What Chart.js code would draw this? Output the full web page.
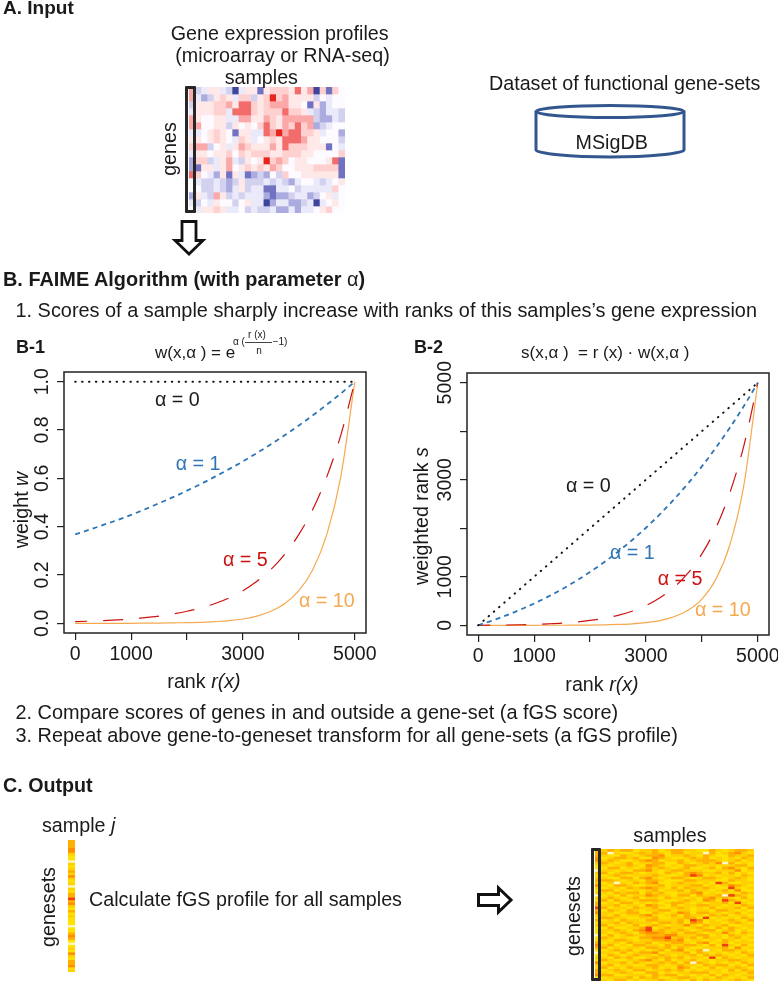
<!DOCTYPE html>
<html><head><meta charset="utf-8">
<style>
html,body{margin:0;padding:0;background:#fff;width:778px;height:982px;overflow:hidden;font-family:"Liberation Sans",Arial,sans-serif;color:#1a1a1a}
.t{position:absolute;white-space:nowrap;line-height:20px;font-size:19.7px}
.w{font-size:19.9px}
.b{font-weight:bold}
.r{transform:translate(-50%,-50%) rotate(-90deg)}
.c{transform:translateX(-50%)}
canvas{position:absolute;display:block}
.soft{filter:blur(.5px)}
.box{position:absolute;box-sizing:border-box;border:3px solid #262626;border-radius:1px}
svg{position:absolute;overflow:visible}
</style></head><body>
<canvas id="heatIn" class="soft" style="left:189px;top:87px" width="156" height="126"></canvas>
<canvas id="b1" style="left:0;top:348px" width="384" height="335"></canvas>
<canvas id="b2" style="left:390px;top:349px" width="397" height="336"></canvas>
<canvas id="strip" class="soft" style="left:68px;top:840px" width="7" height="132"></canvas>
<canvas id="heatOut" class="soft" style="left:595px;top:849px" width="159" height="132"></canvas>

<div class="box" style="left:185px;top:86px;width:11px;height:127px"></div>
<div class="box" style="left:591px;top:848px;width:10px;height:133px"></div>

<svg style="left:0;top:0" width="778" height="982">
  <path d="M182 221.500H196V240.500H203L189 254L175 240.500H182Z" fill="#fff" stroke="#111" stroke-width="2.800"/>
  <path d="M478.500 894.500H498.500V888L511 900L498.500 912V905.500H478.500Z" fill="#fff" stroke="#111" stroke-width="3"/>
  <g fill="none" stroke="#34568f" stroke-width="3">
    <path d="M536 111.500V150C536 153.500 570 157 610 157C650 157 684 153.500 684 150V111.500"/>
    <ellipse cx="610" cy="111.500" rx="74" ry="6"/>
  </g>
</svg>

<div class="t b" style="left:3px;top:-2px;font-size:19px">A. Input</div>
<div class="t c" style="left:279.700px;top:23px">Gene expression profiles</div>
<div class="t c" style="left:282.500px;top:45px">(microarray or RNA-seq)</div>
<div class="t c" style="left:261.300px;top:67px">samples</div>
<div class="t r" style="left:169px;top:149px">genes</div>
<div class="t" style="left:489px;top:73px">Dataset of functional gene-sets</div>
<div class="t c" style="left:611.700px;top:132px">MSigDB</div>

<div class="t b w" style="left:3px;top:269px">B. FAIME Algorithm (with parameter <span style="font-weight:normal">α</span>)</div>
<div class="t w" style="left:15.500px;top:300px">1. Scores of a sample sharply increase with ranks of this samples’s gene expression</div>

<div class="t b" style="left:16px;top:337px;font-size:18px">B-1</div>
<div class="t b" style="left:414px;top:337px;font-size:18px">B-2</div>

<div class="t" style="left:155px;top:343px;font-size:17px">w(x,α ) = e</div>
<div class="t" style="left:233px;top:332px;font-size:10px">α (</div>
<div class="t c" style="left:257px;top:325px;font-size:10px">r (x)</div>
<div style="position:absolute;left:245px;top:342px;width:27px;height:1px;background:#444"></div>
<div class="t c" style="left:259px;top:341px;font-size:10px">n</div>
<div class="t" style="left:272.700px;top:332px;font-size:10px">−1)</div>
<div class="t" style="left:521px;top:343px;font-size:17px">s(x,α ) &nbsp;= r (x) · w(x,α )</div>

<div class="t r" style="left:21px;top:510px">weight <i>w</i></div>
<div class="t c" style="left:204px;top:671px">rank <i>r(x)</i></div>
<div class="t r" style="left:420.700px;top:516px">weighted rank <i>s</i></div>
<div class="t c" style="left:602px;top:674px">rank <i>r(x)</i></div>

<div class="t" style="left:155px;top:389px">α = 0</div>
<div class="t" style="left:175.700px;top:453px;color:#2f75b5">α = 1</div>
<div class="t" style="left:223px;top:549px;color:#cc1111">α = 5</div>
<div class="t" style="left:299px;top:590px;color:#f5a94f">α = 10</div>

<div class="t" style="left:566px;top:475px">α = 0</div>
<div class="t" style="left:610px;top:542px;color:#2f75b5">α = 1</div>
<div class="t" style="left:657.700px;top:568px;color:#cc1111">α = 5</div>
<div class="t" style="left:695px;top:599px;color:#f5a94f">α = 10</div>

<div class="t w" style="left:15.500px;top:702px">2. Compare scores of genes in and outside a gene-set (a fGS score)</div>
<div class="t w" style="left:15.500px;top:725px">3. Repeat above gene-to-geneset transform for all gene-sets (a fGS profile)</div>

<div class="t b" style="left:3px;top:775px">C. Output</div>
<div class="t" style="left:42px;top:815px">sample <i>j</i></div>
<div class="t r" style="left:47.700px;top:907px">genesets</div>
<div class="t" style="left:89px;top:889px">Calculate fGS profile for all samples</div>
<div class="t c" style="left:670px;top:825px">samples</div>
<div class="t r" style="left:572.700px;top:916px">genesets</div>

<script src="https://cdn.jsdelivr.net/npm/chart.js@4/dist/chart.umd.js"></script>
<script>
const rankValues = [0,250,500,750,1000,1250,1500,1750,2000,2250,2500,2750,3000,3250,3500,3750,4000,4250,4500,4750,5000];
const weightAlpha0 = [1,1,1,1,1,1,1,1,1,1,1,1,1,1,1,1,1,1,1,1,1];
const weightAlpha1 = [.368,.387,.407,.427,.449,.472,.497,.522,.549,.577,.607,.638,.670,.705,.741,.779,.819,.861,.905,.951,1];
const weightAlpha5 = [.007,.009,.011,.014,.018,.024,.030,.039,.050,.064,.082,.105,.135,.174,.223,.287,.368,.472,.607,.779,1];
const weightAlpha10 = [0,0,0,0,0,.001,.001,.002,.003,.004,.007,.011,.018,.030,.050,.082,.135,.223,.368,.607,1];
const scoreAlpha0 = [0,250,500,750,1000,1250,1500,1750,2000,2250,2500,2750,3000,3250,3500,3750,4000,4250,4500,4750,5000];
const scoreAlpha1 = [0,97,203,320,449,590,745,914,1099,1299,1516,1754,2010,2290,2594,2921,3276,3659,4073,4517,5000];
const scoreAlpha5 = [0,2,6,11,18,30,45,68,100,144,205,289,405,566,781,1076,1472,2006,2732,3700,5000];
const scoreAlpha10 = [0,0,0,0,0,1,1,3,5,9,17,30,54,98,175,308,540,948,1656,2883,5000];
const rankTicks = [0,1000,2000,3000,4000,5000];
const rankTickLabels = ['0','1000','','3000','','5000'];
const weightTicks = [0,.2,.4,.6,.8,1];
const weightTickLabels = ['0.0','0.2','0.4','0.6','0.8','1.0'];
const scoreTicks = [0,1000,2000,3000,4000,5000];
const scoreTickLabels = ['0','1000','','3000','','5000'];

const inputColors = {a:'#eaeafa',b:'#d2d2f0',c:'#ababdf',d:'#7272c2',e:'#3f459c','0':'#fdfbff','1':'#ffe8e8','2':'#ffd0d0','3':'#fba8a8','4':'#f36c6c','5':'#e6251c'};
const inputHeat = [
'3ba11abea11d12221413e2d20',
'3acb121a22b12523111 1b0a00'.replace(' ',''),
'b111223144212333110d1ca00',
'a11122a444212224221abcaab',
'310011aa331132133333bccab',
'330011b1010242132423cba00',
'aa01210d11aa435344221a00c',
'1101210a21a0121444311000b',
'233b01a132111314222111d0a',
'a11011202122211222110 0002'.replace(' ',''),
'c22ba13ab101523201100014d',
'cd11a1301212132001112222d',
'420ac1d1adcbc0b200111111d',
'0abbabcb1bbbababca00aba01',
'00bbabca1baaddaa0baaaaa20',
'c1ab31babaaacdccbaacb01a0',
'ab0a100b01aaecaaccbaea010',
'0a1121aa0babbaccacaa01200'
];

const outputColors = {'0':'#fff6c0','1':'#ffe200','2':'#ffd000','3':'#ffb000','4':'#ff8f00','5':'#ee3e12'};
const sampleJ = '33344211021232421202133534213121110113431012142133412';
const outputHeat = [
'232331223123322113212332',
'302112323213312203123421',
'211321233412232132113223',
'123323114321123231212132',
'232112343122312333212312',
'321231223311321232403121',
'212232143212133212122331',
'133121232321231123134213',
'221213342123322211222412',
'312332122132134322313121',
'123212223211235412122132',
'211331342123321233212321',
'332122133211133222113221',
'120213234112322121531122',
'213321122312223312124321',
'122132343213132232115212',
'331212123122313221231411',
'213233132311223412122132',
'121312243221331322305321',
'232123122132212134232131',
'313212333211232143153212',
'121331212123321212231521',
'223122143213122332212132',
'312213223112321213122313',
'132132122331221221332121',
'221233113212431332212312',
'213122342123132213231221',
'332211223112233151212132',
'121322133222315412123213',
'223132221332314312212321',
'312213123212242132231122',
'131122351232212321313212',
'223213452322321233123121',
'212321344323133212242132',
'131232233344222331213221',
'321211334452323132212312',
'213321223343412212132121',
'122132231223321341231222',
'231213322132233213152131',
'312122133231321122231412',
'123231212313412302133221',
'221312334122231321212132',
'132123221321223132321213',
'213231123232312215132122',
'321122342131223121223321',
'122313212323130321212132',
'231221133212322132331213',
'312132223121431213122321',
'123213312232312122213132',
'212321133121223331212213',
'331122213233121213132122',
'122231323112332121321213',
'213312122321213132212321'
];

function heatDatasets(rows, palette){
  return rows.map(row => ({
    data: Array.from(row).map(() => 1),
    backgroundColor: Array.from(row).map(ch => palette[ch]),
    borderWidth: 0,
    barPercentage: 1,
    categoryPercentage: 1
  }));
}
function heatChart(id, rows, palette){
  const labels = Array.from(rows[0]).map((_, i) => i);
  new Chart(document.getElementById(id), {
    type:'bar',
    data:{labels, datasets:heatDatasets(rows, palette)},
    options:{
      responsive:false, animation:false, events:[],
      layout:{padding:0},
      plugins:{legend:{display:false},tooltip:{enabled:false}},
      scales:{
        x:{display:false,stacked:true},
        y:{display:false,stacked:true,reverse:true,min:0,max:rows.length}
      }
    }
  });
}
heatChart('heatIn', inputHeat, inputColors);
heatChart('heatOut', outputHeat.map((r,i)=>sampleJ[i]+r), outputColors);
heatChart('strip', Array.from(sampleJ), outputColors);

const frame = {id:'frame', afterDraw(c){
  const {ctx,chartArea:a}=c; ctx.save(); ctx.strokeStyle='#222'; ctx.lineWidth=1.5;
  ctx.strokeRect(a.left,a.top,a.right-a.left,a.bottom-a.top); ctx.restore();
}};
const curveStyles = [
  {borderColor:'#111',borderWidth:2,borderDash:[.5,6.4],borderCapStyle:'round'},
  {borderColor:'#2f75b5',borderWidth:1.8,borderDash:[5,4.2]},
  {borderColor:'#cc1111',borderWidth:1.2,borderDash:[20,16],borderDashOffset:8},
  {borderColor:'#f5a94f',borderWidth:1.2}
];
function lineChart(id, series, yTicks, yLabels, yMin, yMax, axisW, crossPad){
  new Chart(document.getElementById(id), {
    type:'line',
    data:{labels:rankValues, datasets:series.map((s,i)=>({
      data:s.map((v,k)=>({x:rankValues[k],y:v})),
      pointRadius:0, fill:false, cubicInterpolationMode:'monotone', ...curveStyles[i]
    }))},
    plugins:[frame],
    options:{
      responsive:false, animation:false, events:[],
      layout:{padding:{top:24,right:18,left:0,bottom:0}},
      plugins:{legend:{display:false},tooltip:{enabled:false}},
      scales:{
        x:{type:'linear',min:-200,max:5200,
           afterBuildTicks:s=>{s.ticks=rankTicks.map(v=>({value:v}))},
           afterFit:s=>{s.height=50},
           grid:{drawOnChartArea:false,drawTicks:true,tickLength:7,color:'#222',lineWidth:1.2},
           border:{display:false},
           ticks:{autoSkip:false,maxRotation:0,minRotation:0,padding:3,color:'#1a1a1a',
                  font:{family:'Liberation Sans',size:19.5},
                  callback:(v,i)=>rankTickLabels[i]}},
        y:{type:'linear',min:yMin,max:yMax,
           afterBuildTicks:s=>{s.ticks=yTicks.map(v=>({value:v}))},
           afterFit:s=>{s.width=axisW},
           grid:{drawOnChartArea:false,drawTicks:true,tickLength:7,color:'#222',lineWidth:1.2},
           border:{display:false},
           ticks:{autoSkip:false,minRotation:90,maxRotation:90,crossAlign:'center',padding:crossPad,color:'#1a1a1a',
                  font:{family:'Liberation Sans',size:19.5},
                  callback:(v,i)=>yLabels[i]}}
      }
    }
  });
}
lineChart('b1',[weightAlpha0,weightAlpha1,weightAlpha5,weightAlpha10],weightTicks,weightTickLabels,-.04,1.04,64,1);
lineChart('b2',[scoreAlpha0,scoreAlpha1,scoreAlpha5,scoreAlpha10],scoreTicks,scoreTickLabels,-200,5200,77,-7.7);
</script>
</body></html>
